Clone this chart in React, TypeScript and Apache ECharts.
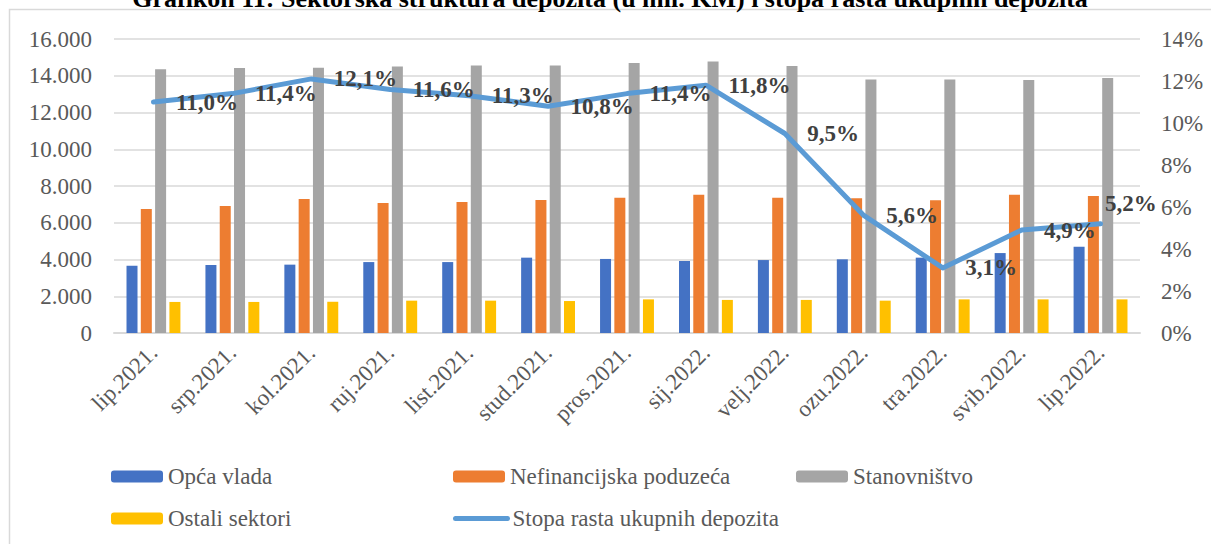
import React, { useEffect, useRef } from "react";
import * as echarts from "echarts";

const categories = ["lip.2021.", "srp.2021.", "kol.2021.", "ruj.2021.", "list.2021.", "stud.2021.", "pros.2021.", "sij.2022.", "velj.2022.", "ozu.2022.", "tra.2022.", "svib.2022.", "lip.2022."];
const opcaVlada = [3660, 3700, 3720, 3860, 3860, 4100, 4030, 3920, 3970, 4010, 4100, 4350, 4700];
const nefinancijska = [6750, 6910, 7290, 7070, 7130, 7240, 7360, 7530, 7360, 7330, 7220, 7530, 7460];
const stanovnistvo = [14350, 14420, 14430, 14510, 14560, 14560, 14690, 14770, 14530, 13790, 13800, 13770, 13880];
const ostali = [1690, 1690, 1700, 1760, 1760, 1740, 1830, 1800, 1800, 1760, 1830, 1830, 1830];
const stopaRasta = [11.0, 11.4, 12.1, 11.6, 11.3, 10.8, 11.4, 11.8, 9.5, 5.6, 3.1, 4.9, 5.2];
const leftTicks = { min: 0, max: 16000, interval: 2000 };
const rightTicks = { min: 0, max: 14, interval: 2 };

const FONT = "Liberation Serif, Times New Roman, serif";

export default function App() {
  const ref = useRef<HTMLDivElement>(null);
  useEffect(() => {
    if (!ref.current) return;
    const chart = echarts.init(ref.current, null, { renderer: "svg" });
    const legendText = { fontSize: 23, color: "#595959", fontFamily: FONT };
    const mkLegend = (name: string, left: number, top: number, extra: any = {}) => ({
      show: true,
      data: [{ name, ...extra }],
      left,
      top,
      itemWidth: 52,
      itemHeight: 12,
      itemGap: 0,
      textStyle: legendText,
      padding: 0,
    });
    chart.setOption({
      animation: false,
      backgroundColor: "#ffffff",
      textStyle: { fontFamily: FONT },
      graphic: [
        {
          type: "rect",
          shape: { x: 9.5, y: 9.5, width: 1300, height: 700 },
          style: { fill: "none", stroke: "#d9d9d9", lineWidth: 1.5 },
          silent: true,
          z: -1,
        },
        {
          type: "text",
          x: 610,
          y: 11,
          style: {
            text: "Grafikon 11: Sektorska struktura depozita (u mil. KM) i stopa rasta ukupnih depozita",
            fontSize: 26,
            fontWeight: "bold",
            fontFamily: FONT,
            fill: "#000000",
            align: "center",
            verticalAlign: "bottom",
          },
        },
      ],
      grid: { left: 114, right: 71, top: 39, bottom: 211, containLabel: false },
      legend: [
        mkLegend("Opća vlada", 111, 465),
        mkLegend("Nefinancijska poduzeća", 453, 465),
        mkLegend("Stanovništvo", 796, 465),
        mkLegend("Ostali sektori", 111, 507),
        mkLegend("Stopa rasta ukupnih depozita", 453, 507, {
          lineStyle: { color: "#5b9bd5", width: 5, cap: "round" },
        }),
      ],
      xAxis: {
        type: "category",
        data: categories,
        axisLine: { lineStyle: { color: "#d9d9d9", width: 2 } },
        axisTick: { show: false },
        axisLabel: {
          rotate: 45,
          margin: 16,
          fontSize: 23,
          color: "#595959",
          fontFamily: FONT,
          interval: 0,
        },
      },
      yAxis: [
        {
          type: "value",
          ...leftTicks,
          axisLine: { show: false },
          axisTick: { show: false },
          splitLine: { lineStyle: { color: "#d9d9d9", width: 1.5 } },
          axisLabel: {
            margin: 22,
            fontSize: 23,
            color: "#595959",
            fontFamily: FONT,
            formatter: (v: number) => (v === 0 ? "0" : (v / 1000).toFixed(3)),
          },
        },
        {
          type: "value",
          ...rightTicks,
          axisLine: { show: false },
          axisTick: { show: false },
          splitLine: { show: false },
          axisLabel: {
            margin: 21,
            fontSize: 23,
            color: "#595959",
            fontFamily: FONT,
            formatter: "{value}%",
          },
        },
      ],
      series: [
        { name: "Opća vlada", type: "bar", data: opcaVlada, barWidth: 11, barGap: "30%", itemStyle: { color: "#4472c4" } },
        { name: "Nefinancijska poduzeća", type: "bar", data: nefinancijska, barWidth: 11, barGap: "30%", itemStyle: { color: "#ed7d31" } },
        { name: "Stanovništvo", type: "bar", data: stanovnistvo, barWidth: 11, barGap: "30%", itemStyle: { color: "#a5a5a5" } },
        { name: "Ostali sektori", type: "bar", data: ostali, barWidth: 11, barGap: "30%", itemStyle: { color: "#ffc000" } },
        {
          name: "Stopa rasta ukupnih depozita",
          type: "line",
          yAxisIndex: 1,
          symbol: "circle",
          symbolSize: 1,
          showSymbol: true,
          z: 5,
          lineStyle: { color: "#5b9bd5", width: 5, cap: "round", join: "round" },
          itemStyle: { color: "rgba(0,0,0,0)" },
          data: stopaRasta.map((v, i) =>
            i === stopaRasta.length - 1
              ? { value: v, label: { offset: [-18, -20] } }
              : { value: v }
          ),
          label: {
            show: true,
            position: "right",
            distance: 22,
            fontSize: 23,
            fontWeight: "bold",
            color: "#404040",
            fontFamily: FONT,
            formatter: (p: any) => p.value.toFixed(1).replace(".", ",") + "%",
          },
        },
      ],
    });
    return () => chart.dispose();
  }, []);
  return (
    <div
      ref={ref}
      style={{ position: "fixed", left: 0, top: 0, width: 1211, height: 544 }}
    />
  );
}
